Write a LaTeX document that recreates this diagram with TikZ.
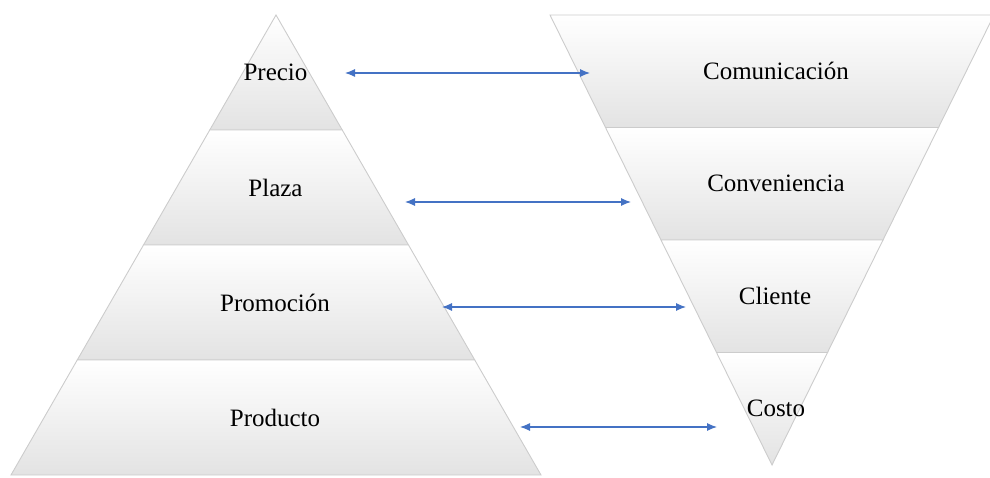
\documentclass[tikz,border=0pt]{standalone}
\usepackage{fontspec}
\setmainfont{Liberation Serif}
\usetikzlibrary{arrows.meta,shadows}
\definecolor{linkblue}{RGB}{68,114,196}
\tikzstyle{band}=[top color=white,middle color=white,bottom color=black!11,draw=black!20,line width=0.9pt]
\tikzstyle{lbl}=[font=\fontsize{25}{30}\selectfont,inner sep=0pt]

\begin{document}
\begin{tikzpicture}[x=1pt,y=-1pt]
        \tikzstyle{every edge}=[<->,>={Latex[length=10pt,width=8pt]},draw=linkblue,line width=1.1pt]
        \useasboundingbox (0,0) rectangle (990,478);

        % Left pyramid:
        \shade[band] (276,15) -- (342.25,130) -- (209.75,130) -- cycle;
        \shade[band] (209.75,130) -- (342.25,130) -- (408.5,245) -- (143.5,245) -- cycle;
        \shade[band] (143.5,245) -- (408.5,245) -- (474.75,360) -- (77.25,360) -- cycle;
        \shade[band] (77.25,360) -- (474.75,360) -- (541,475) -- (11,475) -- cycle;
        % Right pyramid (upside down):
        \shade[band] (550,15) -- (994,15) -- (938.5,127.5) -- (605.5,127.5) -- cycle;
        \shade[band] (605.5,127.5) -- (938.5,127.5) -- (883,240) -- (661,240) -- cycle;
        \shade[band] (661,240) -- (883,240) -- (827.5,352.5) -- (716.5,352.5) -- cycle;
        \shade[band] (716.5,352.5) -- (827.5,352.5) -- (772,465) -- cycle;

        % Four P:
        \node (precio) [lbl] at (275.5,72) {Precio};
        \node (plaza) [lbl] at (275.5,188) {Plaza};
        \node (promo) [lbl] at (275,303) {Promoción};
        \node (producto) [lbl] at (275,418) {Producto};
        % Four C:
        \node (comunic) [lbl] at (776,71) {Comunicación};
        \node (conven) [lbl] at (776,183) {Conveniencia};
        \node (cliente) [lbl] at (775,296) {Cliente};
        \node (costo) [lbl] at (776,408) {Costo};

        % arrow ends
        \coordinate (p1) at (345,73);
        \coordinate (c1) at (590,73);
        \coordinate (p2) at (405,202);
        \coordinate (c2) at (631,202);
        \coordinate (p3) at (442,307);
        \coordinate (c3) at (686,307);
        \coordinate (p4) at (520,427);
        \coordinate (c4) at (717,427);
        \path
        (p1) edge (c1)
        (p2) edge (c2)
        (p3) edge (c3)
        (p4) edge (c4);
\end{tikzpicture}
\end{document}
